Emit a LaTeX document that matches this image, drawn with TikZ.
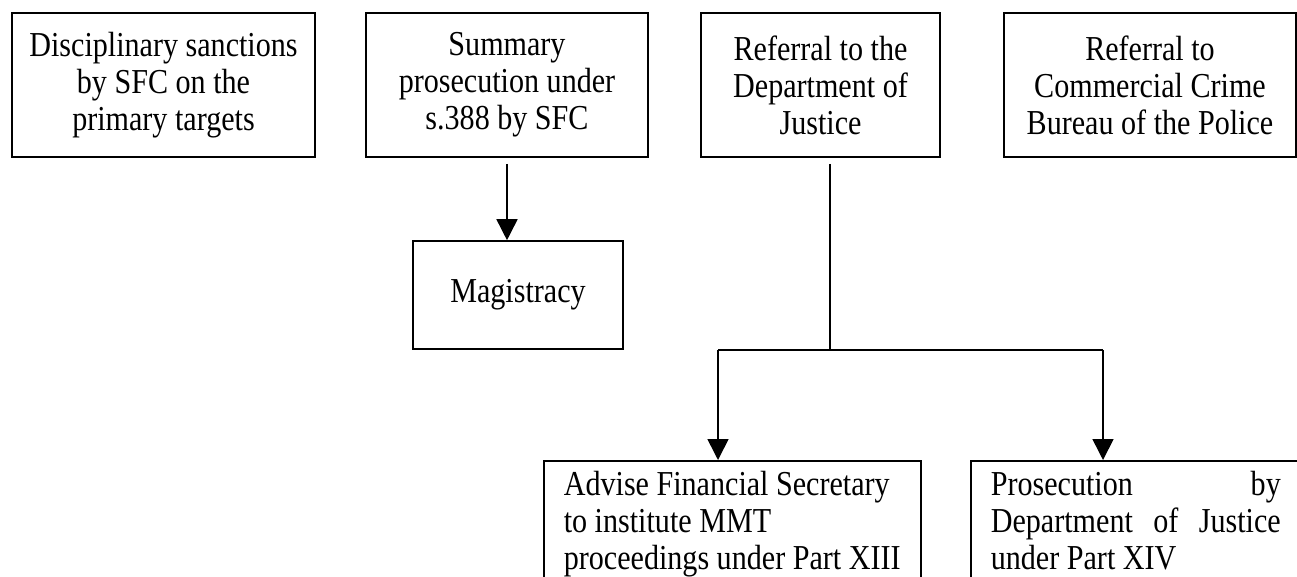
\documentclass[tikz,border=0pt]{standalone}
\usepackage{fontspec}
\setmainfont{Liberation Serif}[FakeStretch=0.86]
\usetikzlibrary{arrows.meta,calc}
\begin{document}
\begin{tikzpicture}[x=1pt,y=-1pt,
  box/.style={draw,line width=1.6pt,inner sep=0pt,font=\fontsize{35}{37}\selectfont,align=center},
  lowbox/.style={draw,line width=1.6pt,anchor=north west,inner xsep=20pt,inner ysep=10pt,font=\fontsize{35}{37}\selectfont},
  arr/.style={line width=1.6pt,-{Triangle[length=21pt,width=21pt]}},
  conn/.style={line width=1.6pt}]
\useasboundingbox (0,0) rectangle (1297,576);
\clip (0,0) rectangle (1297,576);
\node[box,minimum width=303pt,minimum height=144pt] (disc) at (163.5,85) {Disciplinary sanctions\\by SFC on the\\primary targets};
\node[box,minimum width=282pt,minimum height=144pt] (summ) at (507,85) {Summary\\prosecution under\\s.388 by SFC};
\node[box,minimum width=239pt,minimum height=144pt] (doj) at (820.5,85) {Referral to the\\Department of\\Justice};
\node[box,minimum width=292pt,minimum height=144pt] (ccb) at (1150,85) {Referral to\\Commercial Crime\\Bureau of the Police};
\node[box,minimum width=210pt,minimum height=108pt] (mag) at (518,295) {Magistracy};
\node[lowbox] (adv) at (543,460) {\parbox[t][150pt][t]{337pt}{\raggedright Advise Financial Secretary\\to institute MMT\\proceedings under Part XIII}};
\node[lowbox] (pros) at (970,460) {\parbox[t][150pt][t]{350pt}{\raggedright\makebox[290pt][s]{Prosecution by}\\\makebox[290pt][s]{Department of Justice}\\under Part XIV}};
\coordinate (br) at ($(doj.south)+(9.5,192)$);
\coordinate (bl) at (br -| adv.north west);
\draw[arr] ($(summ.south)+(0,6)$) -- (summ.south |- mag.north);
\draw[conn] ($(doj.south)+(9.5,6)$) -- (br);
\draw[conn] ($(bl)+(175,0)$) -- ($(br)+(273,0)$);
\draw[arr] ($(bl)+(175,0)$) -- ($(adv.north west)+(175,0)$);
\draw[arr] ($(br)+(273,0)$) -- ($(br |- pros.north)+(273,0)$);
\end{tikzpicture}
\end{document}
